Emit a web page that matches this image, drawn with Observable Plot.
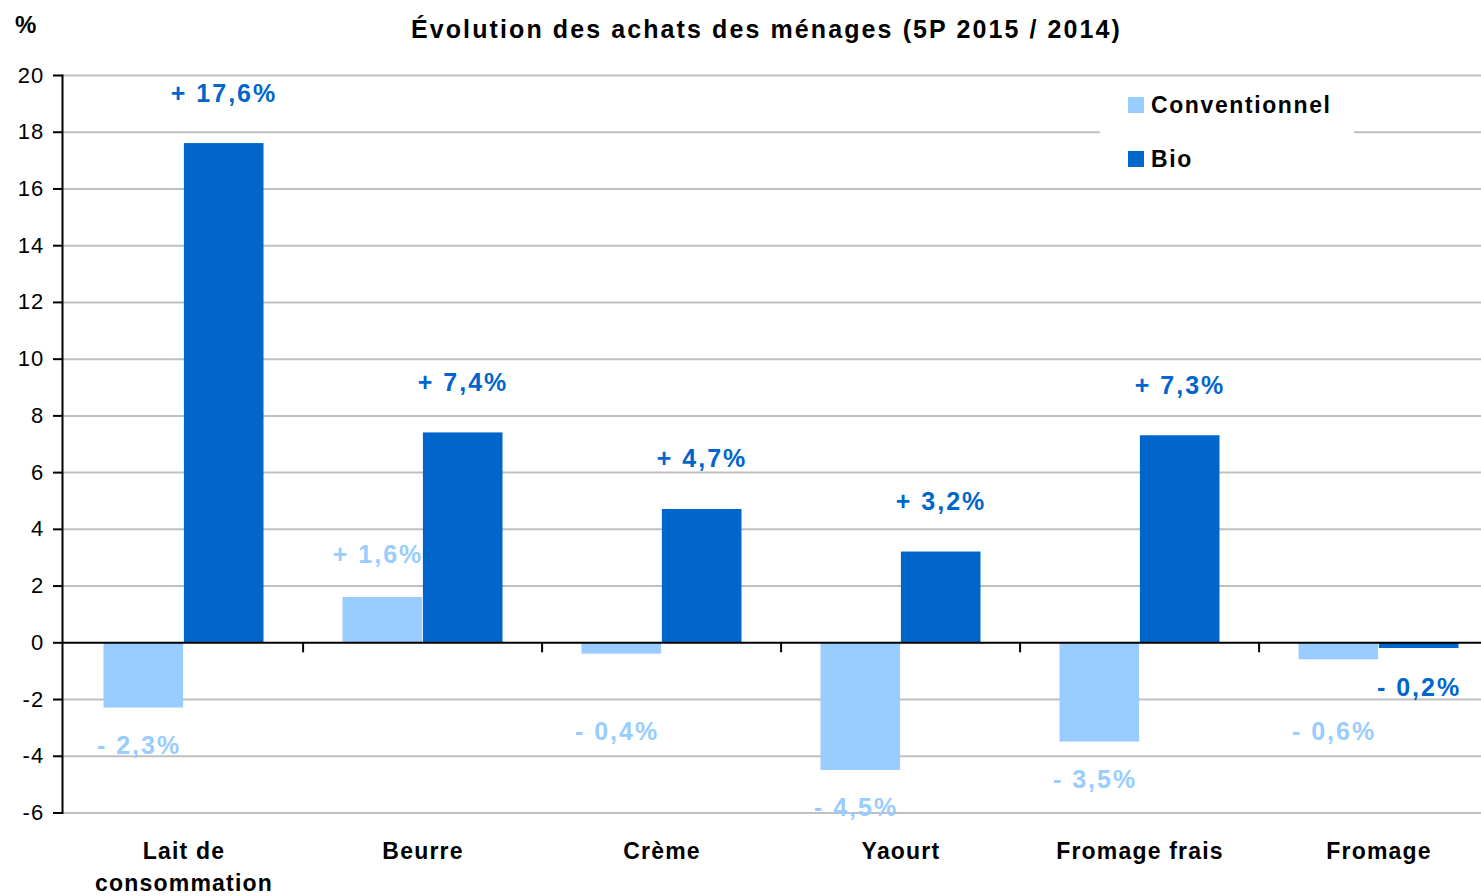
<!DOCTYPE html>
<html>
<head>
<meta charset="utf-8">
<script src="https://cdn.jsdelivr.net/npm/d3@7"></script>
<script src="https://cdn.jsdelivr.net/npm/@observablehq/plot@0.6"></script>
<style>
html, body { margin: 0; padding: 0; background: #fff; overflow: hidden; }
#wrap { position: relative; width: 1481px; height: 896px; font-family: "Liberation Sans", Arial, sans-serif; }
#chart { position: absolute; left: 0; top: 0; }
.txt { position: absolute; white-space: nowrap; font-weight: bold; color: #000; }
#unit { left: 15px; top: 13px; font-size: 24px; line-height: 24px; }
#title { left: 0; width: 1533px; text-align: center; top: 17px; font-size: 25px; line-height: 25px; letter-spacing: 2.1px; }
#legend { position: absolute; left: 1100px; top: 77px; width: 254px; height: 109px; background: #fff; }
.sw { position: absolute; width: 16px; height: 16px; }
.lt { position: absolute; white-space: nowrap; font-weight: bold; font-size: 23px; line-height: 23px; letter-spacing: 1.6px; color: #000; }
g[aria-label="y-axis tick label"] text { letter-spacing: 1.2px; }
g[aria-label="x-axis tick label"] text { letter-spacing: 1.2px; }
g[aria-label="text"] text { letter-spacing: 2px; }
</style>
</head>
<body>
<div id="wrap">
  <div id="chart"></div>
  <div class="txt" id="unit">%</div>
  <div class="txt" id="title">Évolution des achats des ménages (5P 2015 / 2014)</div>
  <div id="legend"></div>
</div>
<script>
// ---- Data ----
const categories = ["Lait de consommation", "Beurre", "Crème", "Yaourt", "Fromage frais", "Fromage"];
const seriesNames = ["Conventionnel", "Bio"];
const conventionnel = [-2.3, 1.6, -0.4, -4.5, -3.5, -0.6];
const bio = [17.6, 7.4, 4.7, 3.2, 7.3, -0.2];
const yTicks = [-6, -4, -2, 0, 2, 4, 6, 8, 10, 12, 14, 16, 18, 20];
const colors = ["#99CCFF", "#0066CC"];

// ---- Table ----
const seriesValues = [conventionnel, bio];
const rows = seriesNames.flatMap((s, k) =>
  categories.map((c, i) => ({ category: c, series: s, value: seriesValues[k][i] }))
);
const fmt = v => (v >= 0 ? "+ " : "- ") + Math.abs(v).toFixed(1).replace(".", ",") + "%";

// ---- Layout ----
const W = 1481, H = 896;
const mL = 62, mT = 75, mB = 83.5;
const band = 239.8;          // width of one category group
const outerGap = 39.5;       // gap between group edge and bar pair
const half = band / 2;

// label placement: above positive bars, below negative bars
// (small negative Conventionnel labels are kept clear of the zero line)
function labels(series, color, dx, dyPos, dyNeg, minNeg) {
  const data = rows.filter(d => d.series === series);
  const common = { x: "category", text: d => fmt(d.value), fill: color,
                   fontSize: 25, fontWeight: "bold", dx };
  return [
    Plot.text(data.filter(d => d.value >= 0), { ...common, y: "value", dy: dyPos }),
    Plot.text(data.filter(d => d.value < 0), { ...common, y: d => Math.min(d.value, minNeg), dy: dyNeg })
  ];
}

const chart = Plot.plot({
  width: W,
  height: H,
  marginLeft: mL,
  marginRight: 0,
  marginTop: mT,
  marginBottom: mB,
  style: { fontFamily: "'Liberation Sans', Arial, sans-serif", background: "#fff", color: "#000" },
  x: { domain: categories, range: [mL, mL + categories.length * band], padding: 0 },
  y: { domain: [yTicks[0], yTicks[yTicks.length - 1]] },
  marks: [
    Plot.ruleY(yTicks.filter(t => t !== 0), { stroke: "#BFBFBF", strokeWidth: 2 }),
    Plot.barY(rows.filter(d => d.series === seriesNames[0]),
      { x: "category", y: "value", fill: colors[0], insetLeft: outerGap, insetRight: half }),
    Plot.barY(rows.filter(d => d.series === seriesNames[1]),
      { x: "category", y: "value", fill: colors[1], insetLeft: half, insetRight: outerGap }),
    Plot.ruleY([0], { stroke: "#000", strokeWidth: 2 }),
    Plot.ruleX(categories.slice(1), { x: d => d, y1: 0, y2: 0, insetBottom: -10, dx: -half, stroke: "#000", strokeWidth: 2 }),
    Plot.frame({ anchor: "left", stroke: "#000", strokeWidth: 2 }),
    Plot.axisY({ ticks: yTicks, label: null, tickSize: 9, tickPadding: 9, fontSize: 22, color: "#000", strokeWidth: 2, tickFormat: d => String(d) }),
    Plot.axisX({ label: null, tickSize: 0, tickPadding: 23, fontSize: 23, fontWeight: "bold", color: "#000", lineHeight: 1.4,
                 tickFormat: d => d.replace("Lait de ", "Lait de\n") }),
    ...labels(seriesNames[0], colors[0], -45, -42, 38, -1.8),
    ...labels(seriesNames[1], colors[1], 40, -50, 40, 0)
  ]
});
document.getElementById("chart").appendChild(chart);

// ---- Legend ----
const legend = document.getElementById("legend");
seriesNames.forEach((s, k) => {
  const sw = document.createElement("div");
  sw.className = "sw";
  sw.style.left = "28px";
  sw.style.top = (20 + k * 54) + "px";
  sw.style.background = colors[k];
  legend.appendChild(sw);
  const t = document.createElement("div");
  t.className = "lt";
  t.style.left = "51px";
  t.style.top = (16.5 + k * 54) + "px";
  t.textContent = s;
  legend.appendChild(t);
});
</script>
</body>
</html>
